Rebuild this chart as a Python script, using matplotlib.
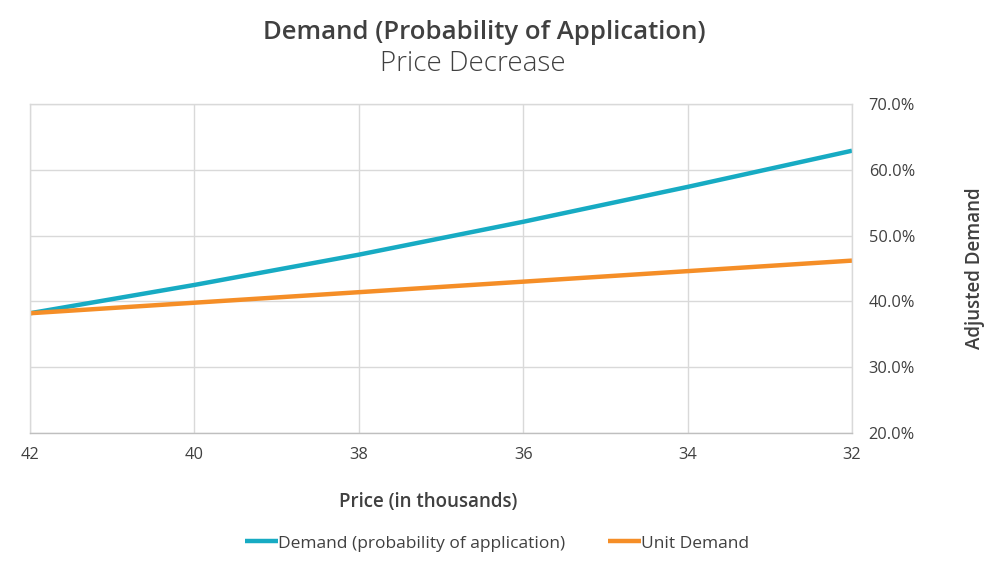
import matplotlib
matplotlib.use("Agg")
import matplotlib.pyplot as plt
from matplotlib.ticker import FuncFormatter

price = [42, 40, 38, 36, 34, 32]
demand_prob = [38.2, 42.5, 47.1, 52.1, 57.4, 62.9]
unit_demand = [38.2, 39.8, 41.4, 43.0, 44.6, 46.2]
x_ticks = [42, 40, 38, 36, 34, 32]
y_ticks = [20, 30, 40, 50, 60, 70]

plt.rcParams['font.family'] = ['Open Sans', 'DejaVu Sans']
text_color = '#404040'
cyan = '#17ABC3'
orange = '#F58E27'
grid_c = '#d9d9d9'

fig = plt.figure(figsize=(10, 5.62), dpi=100)
ax = fig.add_axes([0.030, 1 - 433/562, (852-30)/1000, (433-104)/562])

ax.plot(price, demand_prob, color=cyan, lw=3.2, label='Demand (probability of application)', solid_capstyle='butt')
ax.plot(price, unit_demand, color=orange, lw=3.2, label='Unit Demand', solid_capstyle='butt')

ax.set_xlim(42, 32)
ax.set_ylim(20, 70)
ax.set_xticks(x_ticks)
ax.set_yticks(y_ticks)
ax.yaxis.tick_right()
ax.yaxis.set_label_position('right')
ax.yaxis.set_major_formatter(FuncFormatter(lambda v, p: f'{v:.1f}%'))
ax.tick_params(axis='both', length=0, labelsize=11.8, colors=text_color)
ax.tick_params(axis='x', pad=10)
ax.tick_params(axis='y', pad=12)
ax.grid(True, color=grid_c, lw=1)
ax.set_axisbelow(True)
for s in ax.spines.values():
    s.set_color(grid_c)
    s.set_linewidth(1)
ax.spines['bottom'].set_color('#bfbfbf')

ax.set_xlabel('Price (in thousands)', fontsize=13.5, fontweight='semibold', color=text_color)
ax.set_ylabel('Adjusted Demand', fontsize=13.5, fontweight='semibold', color=text_color)
ax.xaxis.set_label_coords(0.485, -0.18)
ax.yaxis.set_label_coords(1.137, 0.5)

fig.text(0.484, 0.942, 'Demand (Probability of Application)', ha='center', va='center',
         fontsize=18.5, fontweight='semibold', color=text_color)
fig.text(0.473, 0.886, 'Price Decrease', ha='center', va='center',
         fontsize=20, fontweight='light', color=text_color)

leg = fig.legend(loc='center', bbox_to_anchor=(0.497, 0.033), ncol=2, frameon=False,
                 fontsize=12.5, handlelength=1.9, handletextpad=0.0, columnspacing=2.5)
for t in leg.get_texts():
    t.set_color(text_color)

fig.savefig('out.png', dpi=100)
